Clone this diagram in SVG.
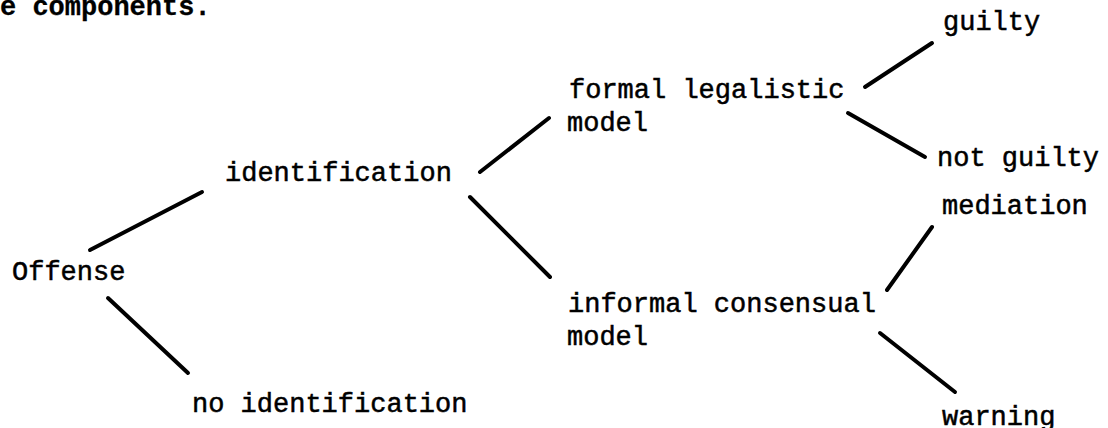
<svg xmlns="http://www.w3.org/2000/svg" width="1108" height="428" viewBox="0 0 1108 428">
<style>
text{font-family:"Liberation Mono","Courier New",monospace;font-size:27px;fill:#000;stroke:#000;stroke-width:0.5}
.h{font-weight:bold;stroke-width:0.3}
.c line{stroke:#000;stroke-width:4;stroke-linecap:round}
</style>
<rect width="1108" height="428" fill="#fff"/>
<text class="h" x="0" y="15">e components.</text>
<g class="c" id="connectors">
<line x1="90" y1="250" x2="202" y2="192"/>
<line x1="108" y1="298" x2="188" y2="373"/>
<line x1="480" y1="172" x2="549" y2="118"/>
<line x1="470" y1="197" x2="550" y2="277"/>
<line x1="865" y1="87" x2="932" y2="43"/>
<line x1="848" y1="113" x2="925" y2="157"/>
<line x1="887" y1="290" x2="932" y2="227"/>
<line x1="880" y1="333" x2="955" y2="392"/>
</g>
<g id="offense"><text x="12" y="280">Offense</text></g>
<g id="identification"><text x="225" y="181">identification</text></g>
<g id="no-identification"><text x="192" y="412">no identification</text></g>
<g id="formal"><text x="569" y="98">formal legalistic</text><text x="567" y="131">model</text></g>
<g id="informal"><text x="568" y="312">informal consensual</text><text x="567" y="345">model</text></g>
<g id="guilty"><text x="943" y="30">guilty</text></g>
<g id="not-guilty"><text x="937" y="166">not guilty</text></g>
<g id="mediation"><text x="942" y="214">mediation</text></g>
<g id="warning"><text x="942" y="425">warning</text></g>
</svg>
